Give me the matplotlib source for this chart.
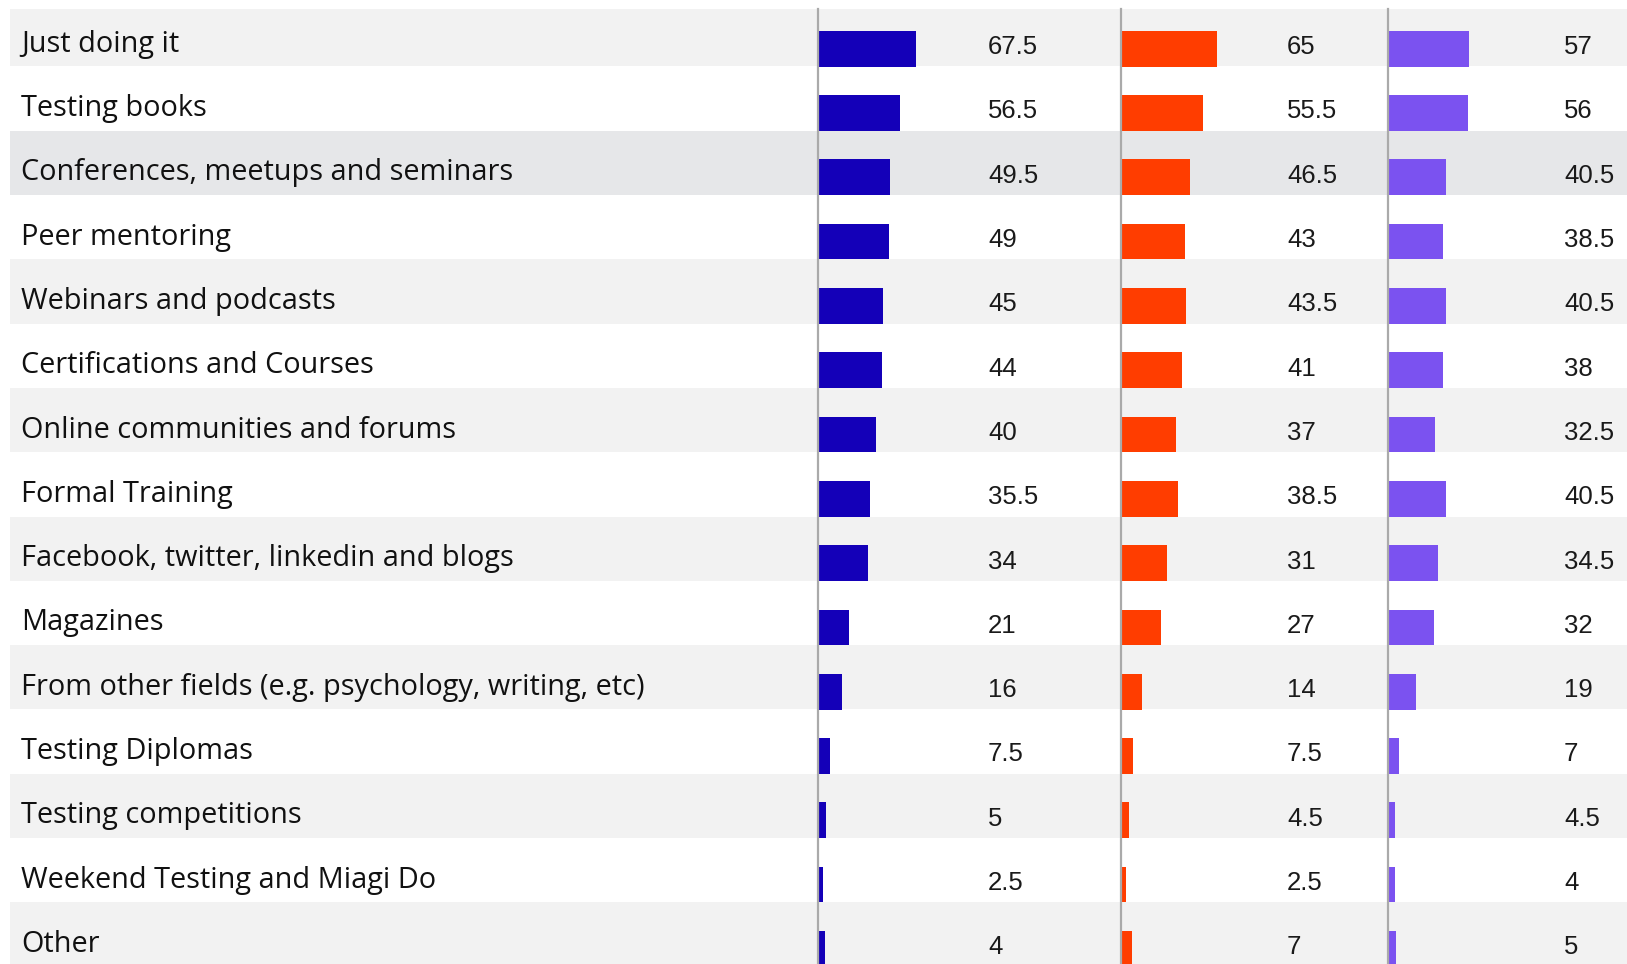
import numpy as np
import matplotlib
matplotlib.use("Agg")
import matplotlib.pyplot as plt

# ---------------------------------------------------------------- data
categories = [
    "Just doing it",
    "Testing books",
    "Conferences, meetups and seminars",
    "Peer mentoring",
    "Webinars and podcasts",
    "Certifications and Courses",
    "Online communities and forums",
    "Formal Training",
    "Facebook, twitter, linkedin and blogs",
    "Magazines",
    "From other fields (e.g. psychology, writing, etc)",
    "Testing Diplomas",
    "Testing competitions",
    "Weekend Testing and Miagi Do",
    "Other",
]
series_blue   = [67.5, 56.5, 49.5, 49, 45, 44, 40, 35.5, 34, 21, 16, 7.5, 5, 2.5, 4]
series_orange = [65, 55.5, 46.5, 43, 43.5, 41, 37, 38.5, 31, 27, 14, 7.5, 4.5, 2.5, 7]
series_purple = [57, 56, 40.5, 38.5, 40.5, 38, 32.5, 40.5, 34.5, 32, 19, 7, 4.5, 4, 5]

labels_blue   = ["67.5", "56.5", "49.5", "49", "45", "44", "40", "35.5", "34", "21", "16", "7.5", "5", "2.5", "4"]
labels_orange = ["65", "55.5", "46.5", "43", "43.5", "41", "37", "38.5", "31", "27", "14", "7.5", "4.5", "2.5", "7"]
labels_purple = ["57", "56", "40.5", "38.5", "40.5", "38", "32.5", "40.5", "34.5", "32", "19", "7", "4.5", "4", "5"]

#---------------------------------------------------------------- layout
W, H = 1627, 964
fig = plt.figure(figsize=(W/100, H/100), dpi=100)
fig.patch.set_facecolor("white")

n = len(categories)
row_px  = 64.3
top_px  = 9.3
ytop = -0.5 + (top_px - (66.4 - row_px))/row_px      # first row is cut at the top
ybot = n - 0.5
ax_h_px = (ybot - ytop)*row_px
ax_bottom = 1 - (top_px + ax_h_px)/H
ax_height = ax_h_px/H

def px_axes(x0, x1):
    a = fig.add_axes([x0/W, ax_bottom, (x1 - x0)/W, ax_height])
    a.set_ylim(ybot, ytop)
    a.patch.set_alpha(0)
    for s in a.spines.values():
        s.set_visible(False)
    a.set_xticks([]); a.set_yticks([])
    return a

# background stripes + category labels
bg = px_axes(9.5, W)
bg.set_xlim(0, 1)
stripe = {0: "#f2f2f2", 2: "#e6e7e9"}
for i in range(n):
    if i % 2 == 0:
        bg.axhspan(i - 0.5, i + 0.5, color=stripe.get(i, "#f2f2f2"), lw=0, zorder=0)
    bg.annotate(categories[i], xy=(0, i), xytext=(11.5, -10), textcoords="offset pixels",
                ha="left", va="center", fontsize=20.8, family="Open Sans", color="#111111")

cols = [
    (818, 1121, 1.43, series_blue,   labels_blue,   "#1400b8", 170),
    (1121, 1388, 1.46, series_orange, labels_orange, "#ff3d00", 166),
    (1388, W,   1.41, series_purple, labels_purple, "#7b52f0", 176),
]
y = np.arange(n)
for x0, x1, scale, vals, labs, col, off in cols:
    ax = px_axes(x0, x1)
    ax.set_xlim(0, (x1 - x0)/scale)
    ax.spines["left"].set_visible(True)
    ax.spines["left"].set_color("#aaaaaa")
    ax.spines["left"].set_linewidth(1.6)
    ax.barh(y + 0.225, vals, height=0.555, color=col, left=0.7)
    for yi, t in zip(y, labs):
        ax.annotate(t, xy=(0, yi + 0.2), xytext=(off, 0), textcoords="offset pixels",
                    ha="left", va="center", fontsize=18.5, family="Liberation Sans",
                    color="#1a1a1a")

fig.savefig("out.png", dpi=100)
